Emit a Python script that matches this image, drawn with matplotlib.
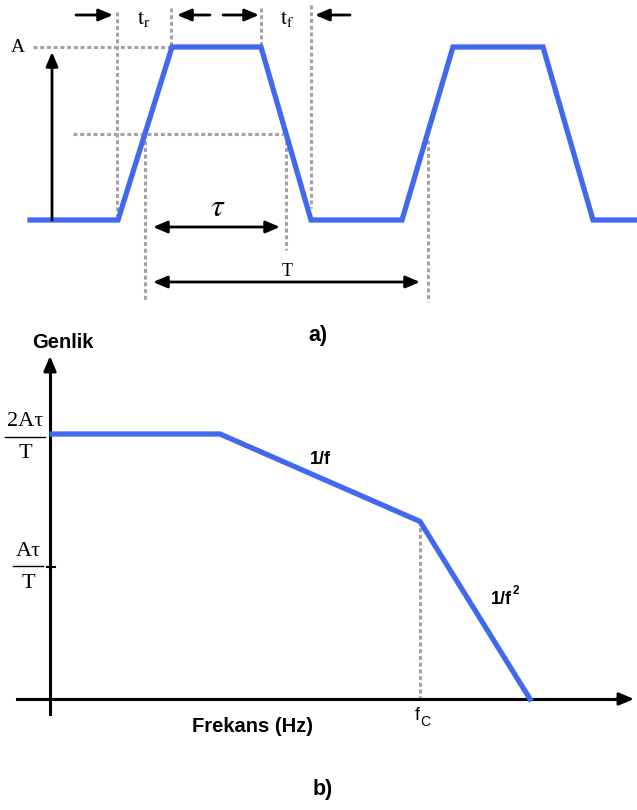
import matplotlib
matplotlib.use("Agg")
import matplotlib.pyplot as plt

# a) trapezoid pulse train (time in px-like units, level 0..A)
wave_t = [30, 118, 172, 261, 311, 402, 453, 543, 593, 637]
wave_v = [0, 0, 1, 1, 0, 0, 1, 1, 0, 0]

# b) spectrum envelope (frequency, amplitude in units of A*tau/T)
spec_f = [2, 170, 370, 480]
spec_a = [2.0, 2.0, 1.34, 0.0]

blue = "#4169f0"
gray = "#a3a3a3"
dash = (0, (1.3, 0.9))
dlw = 2.2
plt.rcParams["mathtext.fontset"] = "stix"

W, H = 637, 810
fig = plt.figure(figsize=(W / 100, H / 100), dpi=100)

# ---------- a) ----------
def v(py):
    return (220 - py) / 173.0

ax = fig.add_axes([0, 1 - 320 / H, 1, 320 / H])
ax.set_xlim(0, W)
ax.set_ylim(v(320), v(0))
ax.axis("off")

ax.plot(wave_t, wave_v, color=blue, lw=3.8, solid_joinstyle="miter", zorder=3)

t_r0, t_r1, t_f0, t_f1 = wave_t[1], wave_t[2], wave_t[3], wave_t[4]
# timing guides
ax.plot([t_r0 - 1, t_r0 - 1], [v(12), v(215)], color=gray, ls=dash, lw=dlw)
ax.plot([t_r1 - 1, t_r1 - 1], [v(8), v(47)], color=gray, ls=dash, lw=dlw)
ax.plot([t_f0, t_f0], [v(8), v(47)], color=gray, ls=dash, lw=dlw)
ax.plot([t_f1, t_f1], [v(5), v(208)], color=gray, ls=dash, lw=dlw)
ax.plot([33, t_r1], [1, 1], color=gray, ls=dash, lw=dlw)
ax.plot([73, 283], [0.5, 0.5], color=gray, ls=dash, lw=dlw)
ax.plot([145, 145], [0.5, v(302)], color=gray, ls=dash, lw=dlw)
ax.plot([286, 286], [0.5, v(250)], color=gray, ls=dash, lw=dlw)
ax.plot([428, 428], [v(140), v(302)], color=gray, ls=dash, lw=dlw)

ap1 = dict(arrowstyle="-|>,head_length=0.85,head_width=0.36", color="black", lw=2, shrinkA=0, shrinkB=0)
ap2 = dict(arrowstyle="<|-|>,head_length=0.85,head_width=0.36", color="black", lw=2, shrinkA=0, shrinkB=0)
ax.annotate("", xy=(52, v(52)), xytext=(52, 0), arrowprops=ap1)
for x0, x1 in [(76, 113), (210, 177), (223, 259), (350, 315)]:
    ax.annotate("", xy=(x1, v(15)), xytext=(x0, v(15)), arrowprops=ap1)
ax.annotate("", xy=(280, v(227)), xytext=(153, v(227)), arrowprops=ap2)
ax.annotate("", xy=(420, v(282)), xytext=(153, v(282)), arrowprops=ap2)

serif = "Liberation Serif"
ax.text(18, 1, "A", family=serif, fontsize=14, ha="center", va="center")
ax.text(144, v(19), r"$\mathrm{t_r}$", fontsize=16, ha="center", va="center")
ax.text(287, v(19), r"$\mathrm{t_f}$", fontsize=16, ha="center", va="center")
ax.text(218, v(208), r"$\tau$", fontsize=23, ha="center", va="center")
ax.text(287, v(271), "T", family=serif, fontsize=13, ha="center", va="center")

# ---------- b) ----------
def a(py):
    return (699 - py) / 132.5

bx = fig.add_axes([0, 0, 1, 490 / H])
bx.set_xlim(-50, W - 50)
bx.set_ylim(a(810), a(320))
bx.axis("off")

bx.plot(spec_f, spec_a, color=blue, lw=3.8, solid_joinstyle="miter", zorder=3)
fc = spec_f[2]
bx.plot([fc, fc], [spec_a[2], 0], color=gray, ls=dash, lw=dlw)

bx.plot([0, 0], [a(714), a(370)], color="black", lw=2.2)
bx.plot([-33, 570], [0, 0], color="black", lw=2.2)
bx.annotate("", xy=(0, a(356)), xytext=(0, a(372)),
            arrowprops=dict(arrowstyle="-|>,head_length=0.9,head_width=0.38", color="black", lw=2, shrinkA=0, shrinkB=0))
bx.annotate("", xy=(584, 0), xytext=(566, 0),
            arrowprops=dict(arrowstyle="-|>,head_length=0.9,head_width=0.38", color="black", lw=2, shrinkA=0, shrinkB=0))
bx.plot([-3, 5], [1, 1], color="black", lw=1.5)

# fraction labels on the y axis
bx.text(-25, a(421), "2Aτ", family=serif, fontsize=16, ha="center", va="center")
bx.plot([-45, -5], [a(437), a(437)], color="black", lw=1)
bx.text(-25, a(454), "T", family=serif, fontsize=16, ha="center", va="center")
bx.text(-22, a(551), "Aτ", family=serif, fontsize=16, ha="center", va="center")
bx.plot([-37, -7], [a(566), a(566)], color="black", lw=1)
bx.text(-22, a(583), "T", family=serif, fontsize=16, ha="center", va="center")

sans = "Liberation Sans"
bx.text(13, a(343), "Genlik", family=sans, weight="bold", fontsize=14.5, ha="center", va="center")
bx.text(270, a(459), "1/f", family=sans, weight="bold", fontsize=13, ha="center", va="center")
bx.text(441, a(600), "1/f", family=sans, weight="bold", fontsize=13, ha="left", va="center")
bx.text(463, a(591), "2", family=sans, weight="bold", fontsize=8.5, ha="left", va="center")
bx.text(203, a(727), "Frekans (Hz)", family=sans, weight="bold", fontsize=14.5, ha="center", va="center")
bx.text(fc - 3, a(716), "f", family=sans, fontsize=13, ha="center", va="center")
bx.text(fc + 5, a(722), "C", family=sans, fontsize=10, ha="center", va="center")

fig.text(318 / W, 1 - 335 / H, "a)", family=sans, weight="bold", fontsize=15.5, ha="center", va="center")
fig.text(323 / W, 1 - 790 / H, "b)", family=sans, weight="bold", fontsize=15.5, ha="center", va="center")

fig.savefig("out.png", dpi=100, facecolor="white")
